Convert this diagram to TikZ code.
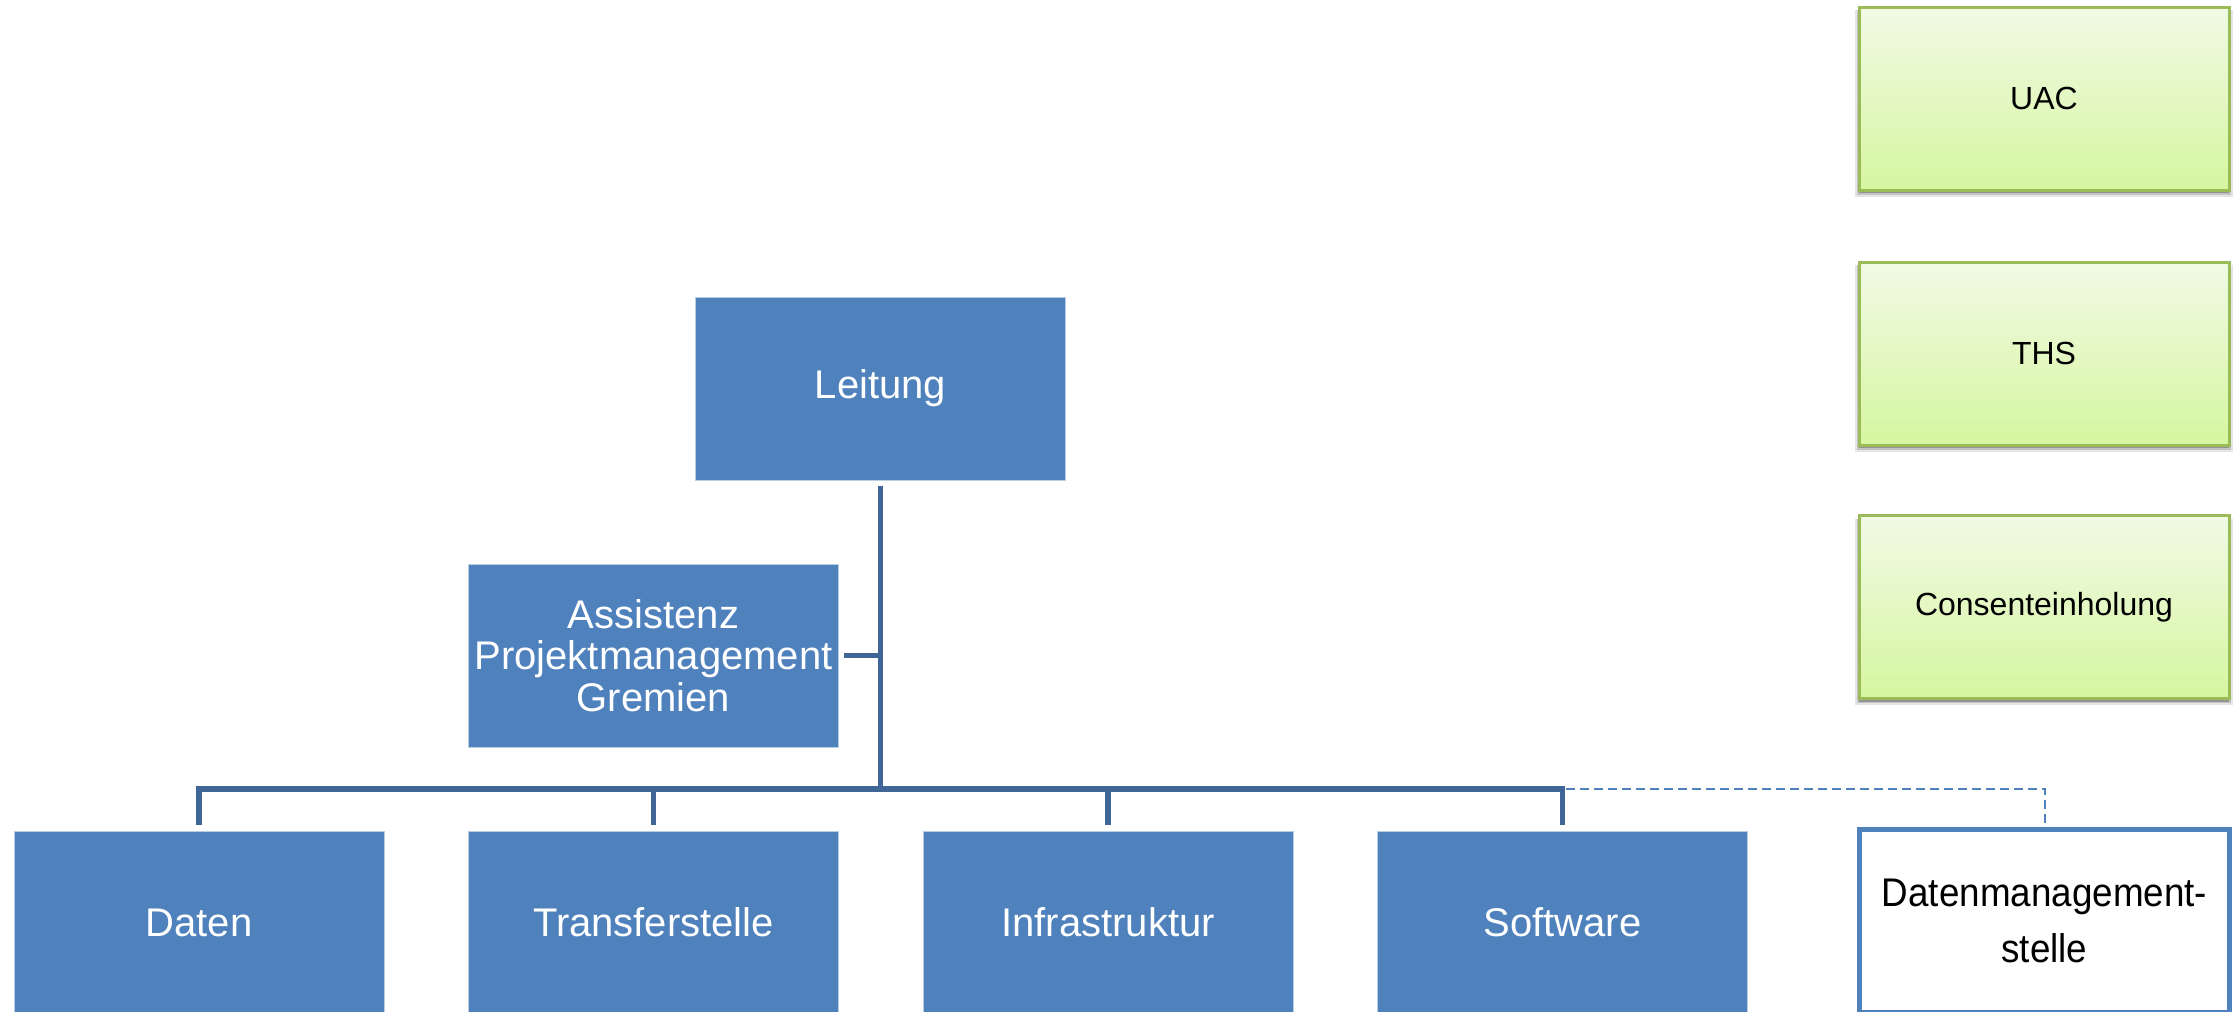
\documentclass[tikz,border=0pt]{standalone}
\usepackage{fontspec}
\usepackage{graphicx}
\setmainfont{Liberation Sans}
\usetikzlibrary{shadows}
\definecolor{boxblue}{RGB}{79,129,189}
\definecolor{boxedge}{RGB}{185,205,229}
\definecolor{connblue}{RGB}{64,102,152}
\definecolor{greentop}{RGB}{241,250,229}
\definecolor{greenbot}{RGB}{214,246,160}
\definecolor{greenedge}{RGB}{155,187,89}
\tikzset{
  orgbox/.style={rectangle, fill=boxblue, draw=boxedge, line width=1pt, text=white,
    minimum width=370pt, minimum height=183pt, inner sep=0pt, align=center,
    font=\fontsize{40}{41.5}\selectfont},
  greenbox/.style={rectangle, top color=greentop, bottom color=greenbot, draw=greenedge,
    line width=3pt, minimum width=370pt, minimum height=183pt, inner sep=0pt,
    font=\fontsize{32}{36}\selectfont,
    general shadow={shadow xshift=0pt, shadow yshift=-5pt, shadow scale=1.02, opacity=0.10, fill=black},
    general shadow={shadow xshift=0pt, shadow yshift=-4pt, shadow scale=1.01, opacity=0.15, fill=black},
    general shadow={shadow xshift=0pt, shadow yshift=-3pt, opacity=0.25, fill=black}},
  dmbox/.style={rectangle, fill=white, draw=boxblue, line width=5pt,
    minimum width=370pt, minimum height=183pt, inner sep=0pt, align=center,
    font=\fontsize{40}{56}\selectfont},
  conn/.style={draw=connblue, line width=5.5pt, line join=miter},
  dconn/.style={draw=boxblue, line width=2pt, dash pattern=on 9pt off 5pt}
}
\begin{document}
\begin{tikzpicture}[x=1pt, y=-1pt]
\useasboundingbox (0,0) rectangle (2239,1012);
\clip (0,0) rectangle (2239,1012);
% green boxes
\node[greenbox] (uac) at (2044,98.5) {UAC};
\node[greenbox] (ths) at (2044,353.5) {THS};
\node[greenbox] (cons) at (2044,607) {Consenteinholung};
% org chart
\node[orgbox] (lead) at (880.5,388.5) {Leitung};
\node[orgbox] (assist) at (653.5,655.5) {Assistenz\\Projektmanagement\\Gremien};
\node[orgbox] (daten) at (199,922.5) {Daten};
\node[orgbox] (transfer) at (653.5,922.5) {Transferstelle};
\node[orgbox] (infra) at (1108,922.5) {Infrastruktur};
\node[orgbox] (soft) at (1562.5,922.5) {Software};
\node[dmbox] (dm) at (2044.5,920.5) {\scalebox{0.92}[1]{Datenmanagement-}\\\scalebox{0.92}[1]{stelle}};
% connectors
\coordinate (bar) at (0,789);
\draw[conn] ([yshift=-5pt]lead.south) -- (lead.south |- bar);
\draw[conn] ([xshift=5pt]assist.east) -- (assist.east -| lead.south);
\draw[conn] ([yshift=6pt]daten.north) -- (daten.north |- bar) -- (soft.north |- bar) -- ([yshift=6pt]soft.north);
\draw[conn] (transfer.north |- bar) -- ([yshift=6pt]transfer.north);
\draw[conn] (infra.north |- bar) -- ([yshift=6pt]infra.north);
\draw[dconn] ([xshift=3pt]soft.north |- bar) -- (dm.north |- bar) -- (dm.north);
\end{tikzpicture}
\end{document}
